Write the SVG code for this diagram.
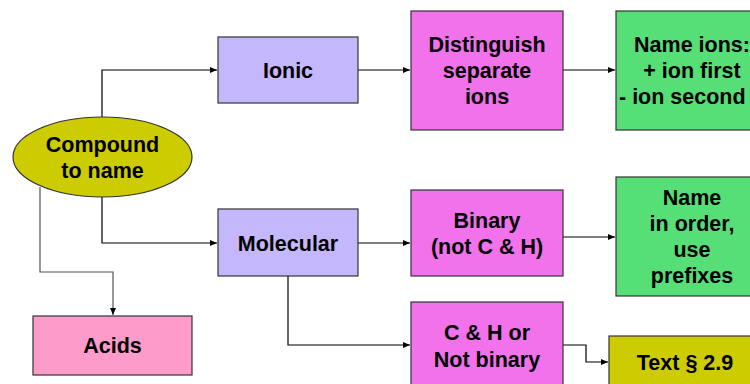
<svg xmlns="http://www.w3.org/2000/svg" width="750" height="384" viewBox="0 0 750 384">
<defs>
<marker id="arr" markerWidth="8" markerHeight="6" refX="7" refY="3" orient="auto" markerUnits="userSpaceOnUse">
<path d="M0,0 L7,3 L0,6 Z" fill="#000"/>
</marker>
<style>
.box{stroke:#333;stroke-width:1.2}
.lav{fill:#c4b7fc}
.mag{fill:#f272ec}
.grn{fill:#55df76}
.olv{fill:#cccc00}
.pnk{fill:#fd9bcb}
.t{font-family:"Liberation Sans",Arial,sans-serif;font-weight:bold;font-size:21.5px;fill:#000;text-anchor:middle}
.c{fill:none;stroke:#000;stroke-width:1.2}
</style>
</defs>
<rect width="750" height="384" fill="#fff"/>
<g id="connectors">
<path class="c" d="M102,117 V70 H217" marker-end="url(#arr)"/>
<path class="c" d="M102,197 V243 H217" marker-end="url(#arr)"/>
<path class="c" d="M40,187 V272 H113 V315" style="stroke:#555" marker-end="url(#arr)"/>
<path class="c" d="M358,70 H410" marker-end="url(#arr)"/>
<path class="c" d="M563,70 H615" marker-end="url(#arr)"/>
<path class="c" d="M358,243 H410" marker-end="url(#arr)"/>
<path class="c" d="M563,237 H615" marker-end="url(#arr)"/>
<path class="c" d="M288,276 V345 H410" marker-end="url(#arr)"/>
<path class="c" d="M563,345 H586 V362 H608" marker-end="url(#arr)"/>
</g>
<g id="compound">
<ellipse class="box olv" cx="102.5" cy="157" rx="89.5" ry="40"/>
<text class="t" x="102.5" y="152">Compound</text>
<text class="t" x="102.5" y="178">to name</text>
</g>
<g id="ionic">
<rect class="box lav" x="218" y="37" width="140" height="66"/>
<text class="t" x="288" y="78">Ionic</text>
</g>
<g id="distinguish">
<rect class="box mag" x="411" y="11" width="152" height="119"/>
<text class="t" x="487" y="52">Distinguish</text>
<text class="t" x="487" y="78">separate</text>
<text class="t" x="487" y="104">ions</text>
</g>
<g id="nameions">
<rect class="box grn" x="616" y="11" width="152" height="119"/>
<text class="t" x="692" y="52">Name ions:</text>
<text class="t" x="692" y="78">+ ion first</text>
<text class="t" x="619" y="104" style="text-anchor:start">- ion second</text>
</g>
<g id="molecular">
<rect class="box lav" x="218" y="209" width="140" height="67"/>
<text class="t" x="288" y="251">Molecular</text>
</g>
<g id="binary">
<rect class="box mag" x="411" y="190" width="152" height="86"/>
<text class="t" x="487" y="228">Binary</text>
<text class="t" x="487" y="254">(not C &amp; H)</text>
</g>
<g id="nameorder">
<rect class="box grn" x="616" y="177" width="152" height="119"/>
<text class="t" x="692" y="205">Name</text>
<text class="t" x="692" y="231">in order,</text>
<text class="t" x="692" y="257">use</text>
<text class="t" x="692" y="283">prefixes</text>
</g>
<g id="chnot">
<rect class="box mag" x="411" y="302" width="152" height="100"/>
<text class="t" x="487" y="340">C &amp; H or</text>
<text class="t" x="487" y="367">Not binary</text>
</g>
<g id="textsec">
<rect class="box olv" x="609" y="336" width="152" height="70"/>
<text class="t" x="685" y="370">Text § 2.9</text>
</g>
<g id="acids">
<rect class="box pnk" x="33" y="316" width="159" height="59"/>
<text class="t" x="112.5" y="353">Acids</text>
</g>
</svg>
